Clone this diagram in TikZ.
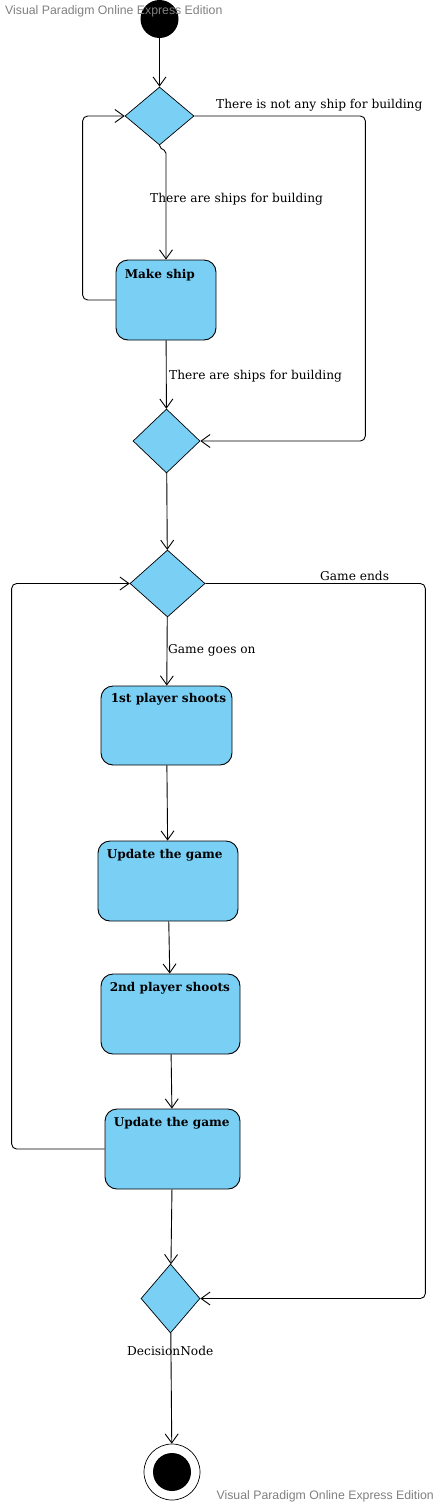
\documentclass[tikz,border=0pt]{standalone}
\usepackage{fontspec}
\setmainfont{DejaVu Serif}
\newfontfamily\markfont{Liberation Sans}
\usetikzlibrary{shapes.geometric,arrows.meta,calc}

\definecolor{actblue}{RGB}{122,207,245}
\definecolor{markgray}{RGB}{128,128,128}

\tikzset{
  flow/.style={draw, line width=0.9pt, rounded corners=5pt,
    -{Straight Barb[length=9pt,width=13pt,line width=0.9pt]}},
  decision/.style={diamond, draw, fill=actblue, inner sep=0pt, line width=0.7pt},
  activity/.style 2 args={rectangle, draw, fill=actblue, rounded corners=12pt,
    line width=0.9pt, minimum width=#1, minimum height=#2, inner sep=0pt},
  title/.style={font=\fontsize{12.1}{14}\selectfont\bfseries, inner sep=0pt},
  guard/.style={font=\fontsize{12.2}{14}\selectfont, inner sep=0pt, anchor=base west},
  startnode/.style={circle, fill=black, minimum size=38pt, inner sep=0pt},
  endnode/.style={circle, draw, fill=white, line width=0.7pt, minimum size=56pt, inner sep=0pt},
  watermark/.style={inner sep=0pt, text=markgray, font=\markfont\fontsize{12.3}{14}\selectfont}
}

\begin{document}
\begin{tikzpicture}[x=1pt,y=-1pt]
  \useasboundingbox (0,0) rectangle (441,1507);

  % nodes
  \node[startnode] (start) at (159.5,19) {};
  \node[decision, minimum width=69pt, minimum height=58pt] (D1) at (159.5,116) {};
  \node[activity={100pt}{80pt}] (make) at (166,300) {};
  \node[decision, minimum width=67pt, minimum height=64pt] (D2) at (166.5,441) {};
  \node[decision, minimum width=75pt, minimum height=67pt] (D3) at (167.5,583.5) {};
  \node[activity={131pt}{79pt}] (shoot1) at (166.5,725.5) {};
  \node[activity={140pt}{80pt}] (update1) at (168,881) {};
  \node[activity={139pt}{80pt}] (shoot2) at (170.5,1014) {};
  \node[activity={135pt}{80pt}] (update2) at (172.5,1149) {};
  \node[decision, minimum width=59pt, minimum height=69pt] (D4) at (170.5,1298.5) {};
  \node[endnode] (end) at (172,1472) {};
  \fill (end.center) circle[radius=19pt];

  % titles
  \node[title, anchor=base west] at ([xshift=9pt,yshift=-19pt]make.north west) {Make ship};
  \node[title, anchor=base west] at ([xshift=10pt,yshift=-17pt]shoot1.north west) {1st player shoots};
  \node[title, anchor=base west] at ([xshift=9pt,yshift=-18pt]update1.north west) {Update the game};
  \node[title, anchor=base west] at ([xshift=9pt,yshift=-18pt]shoot2.north west) {2nd player shoots};
  \node[title, anchor=base west] at ([xshift=9pt,yshift=-18pt]update2.north west) {Update the game};

  % flows
  \draw[flow] (start) -- (D1);
  \draw[flow] (D1.east) -| ([xshift=171pt]D1.east |- D2.east) -- (D2.east);
  \draw[flow, rounded corners=2pt] (D1.south) -- ++(0,2) -- ++(6.5,4) -- (make.north);
  \draw[flow] (make.west) -| ([xshift=-42pt]D1.west) -- (D1.west);
  \draw[flow] (make) -- (D2);
  \draw[flow] (D2) -- (D3);
  \draw[flow] (D3.east) -| ([xshift=220pt]D3.east |- D4.east) -- (D4.east);
  \draw[flow] (D3) -- (shoot1);
  \draw[flow] (shoot1) -- (update1);
  \draw[flow] (update1) -- (shoot2);
  \draw[flow] (shoot2) -- (update2);
  \draw[flow] (update2.west) -| ([xshift=-118pt]D3.west) -- (D3.west);
  \draw[flow] (update2) -- (D4);
  \draw[flow] (D4) -- (end);

  % guards
  \node[guard] at (216,108.5) {There is not any ship for building};
  \node[guard] at (150,202.5) {There are ships for building};
  \node[guard] at (169,379.5) {There are ships for building};
  \node[guard] at (320,580) {Game ends};
  \node[guard] at (168,653) {Game goes on};
  \node[guard] at (127,1355) {DecisionNode};

  % watermarks
  \node[watermark, anchor=base west] at (5,14) {Visual Paradigm Online Express Edition};
  \node[watermark, anchor=base east] at (434,1499) {Visual Paradigm Online Express Edition};
\end{tikzpicture}
\end{document}
